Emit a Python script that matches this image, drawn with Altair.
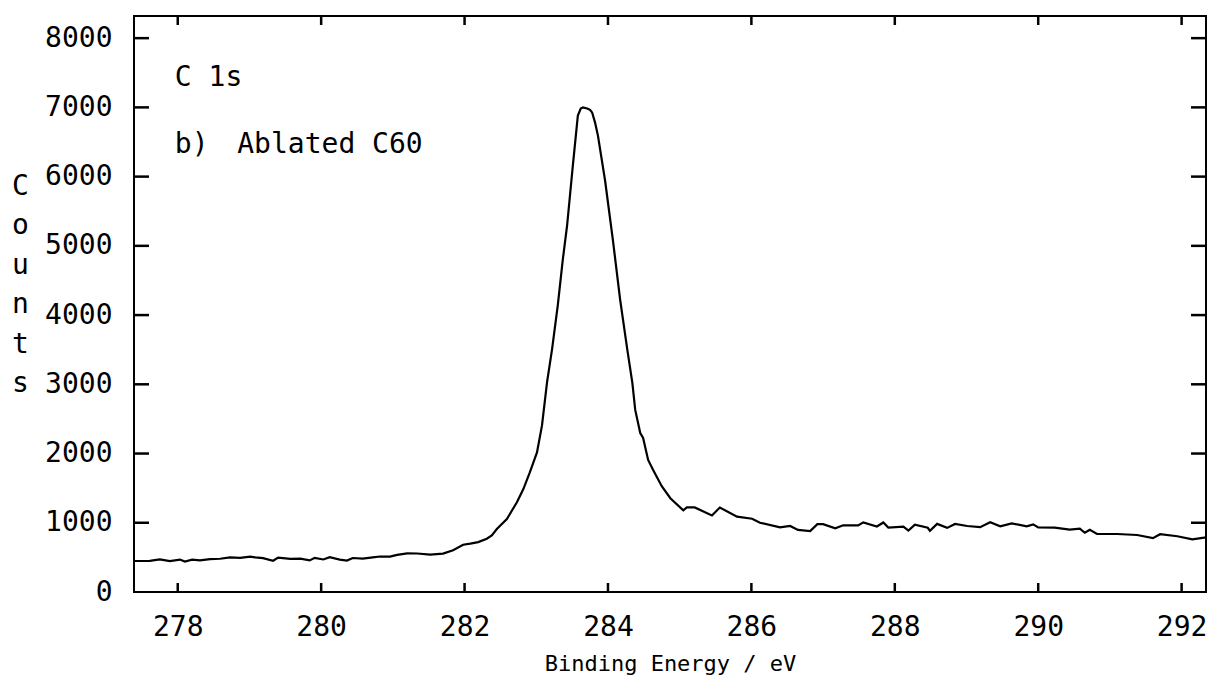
import altair as alt
import pandas as pd

# Spectrum (binding energy in eV, counts)
energy = [277.40, 277.61, 277.75, 277.89, 278.03, 278.10, 278.20, 278.31, 278.45, 278.59,
          278.73, 278.87, 279.01, 279.08, 279.19, 279.33, 279.40, 279.57, 279.71, 279.84,
          279.91, 280.03, 280.12, 280.26, 280.36, 280.44, 280.58, 280.72, 280.82, 280.96,
          281.06, 281.20, 281.34, 281.52, 281.70, 281.84, 281.98, 282.08, 282.19, 282.31,
          282.38, 282.45, 282.59, 282.73, 282.82, 282.91, 283.01, 283.08, 283.15, 283.22,
          283.30, 283.37, 283.43, 283.47, 283.51, 283.58, 283.62, 283.65, 283.71, 283.75,
          283.78, 283.82, 283.86, 283.96, 284.07, 284.17, 284.27, 284.34, 284.38, 284.45,
          284.49, 284.56, 284.63, 284.75, 284.87, 285.05, 285.10, 285.21, 285.45, 285.56,
          285.80, 286.01, 286.12, 286.40, 286.54, 286.65, 286.82, 286.92, 287.00, 287.17,
          287.28, 287.49, 287.56, 287.75, 287.84, 287.91, 288.12, 288.19, 288.28, 288.46,
          288.49, 288.59, 288.73, 288.84, 289.01, 289.19, 289.33, 289.47, 289.63, 289.84,
          289.93, 290.00, 290.23, 290.44, 290.58, 290.65, 290.72, 290.82, 291.10, 291.38,
          291.60, 291.70, 291.94, 292.15, 292.34]
counts = [448, 451, 470, 445, 468, 439, 467, 457, 474, 480,
          501, 493, 510, 500, 490, 451, 497, 478, 481, 457,
          494, 470, 503, 468, 454, 491, 481, 499, 513, 512,
          536, 558, 556, 540, 555, 604, 683, 698, 721, 769,
          816, 910, 1055, 1296, 1487, 1728, 2017, 2406, 3027, 3504,
          4139, 4800, 5294, 5727, 6160, 6883, 6984, 6998, 6984, 6965,
          6924, 6780, 6592, 5940, 5072, 4220, 3497, 3020, 2630, 2297,
          2225, 1907, 1761, 1529, 1355, 1180, 1223, 1222, 1105, 1220,
          1088, 1058, 1000, 933, 954, 896, 880, 980, 980, 921,
          964, 962, 1006, 946, 1004, 931, 944, 886, 972, 928,
          884, 984, 926, 983, 953, 937, 1009, 950, 992, 948,
          976, 932, 931, 900, 914, 856, 899, 840, 838, 823,
          778, 835, 805, 760, 788]

y_ticks = [0, 1000, 2000, 3000, 4000, 5000, 6000, 7000, 8000]
y_inner_ticks = [1000, 2000, 3000, 4000, 5000, 6000, 7000, 8000]
x_ticks = [278, 280, 282, 284, 286, 288, 290, 292]
y_title = ["C", "o", "u", "n", "t", "s"]
x_title = "Binding Energy / eV"

notes = ["C 1s", "b)", "Ablated C60"]
note_energy = [277.96, 277.96, 278.83]
note_counts = [7430, 6460, 6460]

W, H = 1072, 576
FONT = "DejaVu Sans Mono"

xs = alt.Scale(domain=[277.39, 292.34], nice=False, zero=False)
ys = alt.Scale(domain=[0, 8320], nice=False, zero=True)

df = pd.DataFrame({"energy": energy, "counts": counts})
ndf = pd.DataFrame({"energy": note_energy, "counts": note_counts, "note": notes})
ydf = pd.DataFrame({"counts": [float(v) for v in y_inner_ticks]})
xdf = pd.DataFrame({"energy": [float(v) for v in x_ticks]})

# inward tick marks on all four sides of the frame (own sub-layer)
left_ticks = alt.Chart(ydf).mark_rule(color="black", strokeWidth=2.5).encode(
    y=alt.Y("counts:Q", scale=ys), x=alt.value(0), x2=alt.value(15))
right_ticks = alt.Chart(ydf).mark_rule(color="black", strokeWidth=2.5).encode(
    y=alt.Y("counts:Q", scale=ys), x=alt.value(W - 15), x2=alt.value(W))
bottom_ticks = alt.Chart(xdf).mark_rule(color="black", strokeWidth=2.5).encode(
    x=alt.X("energy:Q", scale=xs), y=alt.value(H - 9), y2=alt.value(H))
top_ticks = alt.Chart(xdf).mark_rule(color="black", strokeWidth=2.5).encode(
    x=alt.X("energy:Q", scale=xs), y=alt.value(0), y2=alt.value(9))
tick_layer = alt.layer(left_ticks, right_ticks, bottom_ticks, top_ticks)

line = alt.Chart(df).mark_line(color="black", strokeWidth=2.2).encode(
    x=alt.X("energy:Q", scale=xs,
            axis=alt.Axis(values=x_ticks, title=x_title, format="d",
                          domain=False, ticks=False, grid=False,
                          labelFont=FONT, labelFontSize=28, labelColor="black",
                          titleFont=FONT, titleColor="black", titleFontWeight="normal",
                          labelPadding=21, titlePadding=12, titleFontSize=22)),
    y=alt.Y("counts:Q", scale=ys,
            axis=alt.Axis(values=y_ticks, title=y_title, format="d",
                          domain=False, ticks=False, grid=False,
                          labelFont=FONT, labelFontSize=28, labelColor="black",
                          titleFont=FONT, titleColor="black", titleFontWeight="normal",
                          labelPadding=22, titleAngle=0, titleAlign="center",
                          titleBaseline="top", titleX=-114, titleY=156,
                          titleLineHeight=39.5, titleFontSize=28)),
)

labels = alt.Chart(ndf).mark_text(
    align="left", baseline="middle", font=FONT, fontSize=28, color="black"
).encode(x=alt.X("energy:Q", scale=xs), y=alt.Y("counts:Q", scale=ys), text="note:N")

chart = alt.layer(line, labels, tick_layer).properties(
    width=W, height=H,
    padding={"left": 134, "top": 16, "right": 7, "bottom": 97},
    autosize=alt.AutoSizeParams(type="none"),
    background="white",
).configure_view(
    stroke="black", strokeWidth=2
)

chart.save("out.html", embed_options={"renderer": "svg", "actions": False})
